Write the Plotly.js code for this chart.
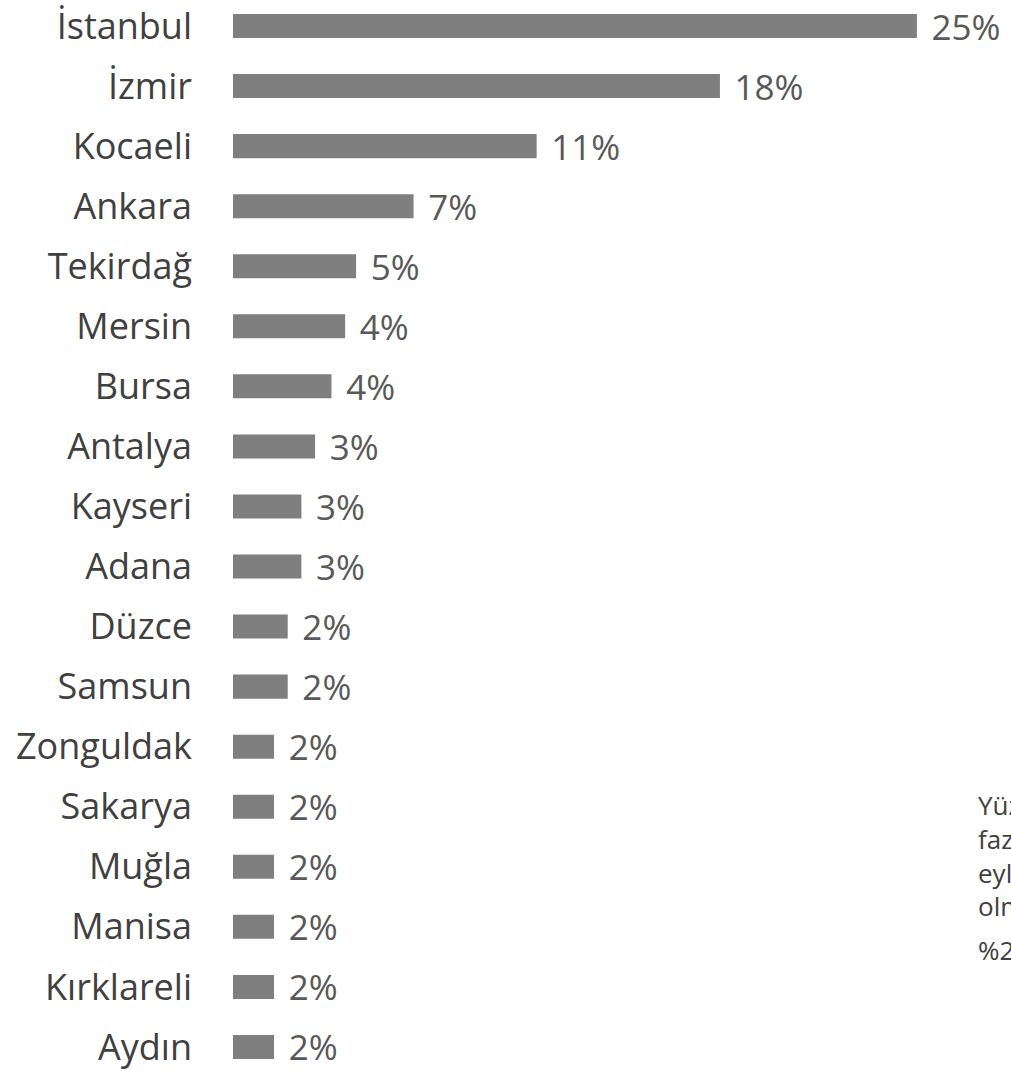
<!DOCTYPE html>
<html>
<head>
<meta charset="utf-8">
<script src="https://cdn.plot.ly/plotly-3.0.1.min.js"></script>
<style>html,body{margin:0;padding:0;background:#fff;overflow:hidden}</style>
</head>
<body>
<div id="chart" style="width:1011px;height:1071px"></div>
<script>
const cities = ["İstanbul","İzmir","Kocaeli","Ankara","Tekirdağ","Mersin","Bursa","Antalya","Kayseri","Adana","Düzce","Samsun","Zonguldak","Sakarya","Muğla","Manisa","Kırklareli","Aydın"];
const shares = [25.0, 17.8, 11.1, 6.6, 4.5, 4.1, 3.6, 3.0, 2.5, 2.5, 2.0, 2.0, 1.5, 1.5, 1.5, 1.5, 1.5, 1.5];
const valueLabels = ["25%","18%","11%","7%","5%","4%","4%","3%","3%","3%","2%","2%","2%","2%","2%","2%","2%","2%"];
const noteLines = ["Yüz", "fazl", "eyl", "olm"];
const noteLine2 = "%2 ";

const trace = {
  type: "bar",
  orientation: "h",
  y: cities,
  x: shares,
  text: valueLabels.map(s => "\u2004" + s),
  textposition: "outside",
  constraintext: "none",
  cliponaxis: false,
  textfont: {family: "Open Sans", size: 35, color: "#595959"},
  marker: {color: "#7f7f7f"},
  hoverinfo: "none"
};

const layout = {
  width: 1011, height: 1071,
  margin: {l: 233, r: 0, t: 0, b: 0},
  paper_bgcolor: "#ffffff", plot_bgcolor: "#ffffff",
  bargap: 0.6,
  showlegend: false,
  xaxis: {range: [0, 28.44], visible: false, fixedrange: true},
  yaxis: {
    type: "category",
    range: [17.40, -0.433],
    showgrid: false, zeroline: false, showline: false,
    ticks: "", ticklen: 0,
    ticklabelstandoff: 40,
    tickfont: {family: "Open Sans", size: 36, color: "#404040"},
    automargin: false
  },
  annotations: [
    {xref: "paper", yref: "paper", x: (976-233)/778, y: 1 - 785/1071, xanchor: "left", yanchor: "top",
     align: "left", showarrow: false, text: noteLines.join("<br>"),
     font: {family: "Open Sans", size: 26, color: "#404040"}},
    {xref: "paper", yref: "paper", x: (976-233)/778, y: 1 - 930/1071, xanchor: "left", yanchor: "top",
     align: "left", showarrow: false, text: noteLine2,
     font: {family: "Open Sans", size: 26, color: "#404040"}}
  ]
};

Plotly.newPlot("chart", [trace], layout, {displayModeBar: false, staticPlot: true});
</script>
</body>
</html>
